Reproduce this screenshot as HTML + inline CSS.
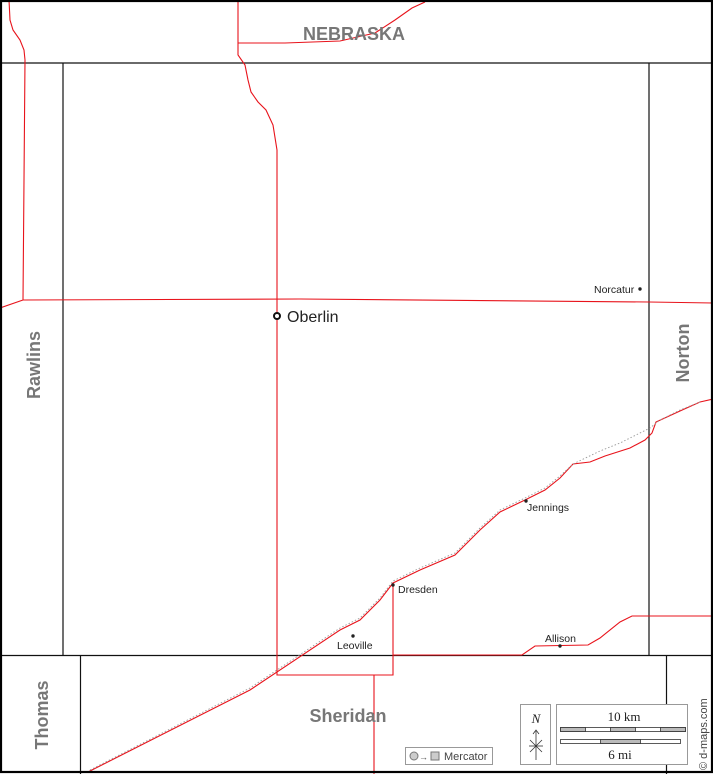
<!DOCTYPE html>
<html><head><meta charset="utf-8"><style>html,body{margin:0;padding:0;background:#fff}svg{display:block}</style></head><body>
<svg width="713" height="774" viewBox="0 0 713 774" xmlns="http://www.w3.org/2000/svg" font-family="Liberation Sans, sans-serif">
<rect x="0" y="0" width="713" height="774" fill="#fff"/>
<g stroke="#111" stroke-width="1.2" fill="none">
<line x1="0" y1="63" x2="713" y2="63"/>
<line x1="63" y1="63" x2="63" y2="655"/>
<line x1="649" y1="63" x2="649" y2="655"/>
<line x1="0" y1="655.5" x2="713" y2="655.5"/>
<line x1="80.5" y1="655" x2="80.5" y2="774"/>
<line x1="666.5" y1="655" x2="666.5" y2="774"/>
</g>
<g stroke="#e8131b" stroke-width="1.1" fill="none">
<path d="M9,0 L10,20 L13,30 L20,40 L24,50 L25,60 L23,300 L0,308"/>
<path d="M23,300 L300,299 L649,302 L713,303"/>
<path d="M238,0 L238,55 L245,65 L248,80 L251,92 L258,102 L266,110 L273,125 L277,150 L277,675 L393,675 L393,583"/>
<path d="M238,43 L285,43 L340,41 L375,33 L395,20 L412,8 L425,2"/>
<path d="M374,675 L374,774"/>
<path d="M393,655 L522,655 L535,646 L588,645 L600,638 L620,622 L632,616 L713,616"/>
<path d="M88,772 L250,690 L340,630 L360,620 L380,600 L393,583 L420,570 L455,555 L480,530 L500,512 L525,500 L545,490 L560,478 L573,464 L590,462 L605,456 L630,448 L645,440 L652,433 L656,422 L680,411 L700,402 L713,399"/>
</g>
<path d="M90,770 L250,688 L340,628 L360,618 L380,598 L393,581 L420,568 L455,553 L480,528 L500,510 L525,498 L545,488 L560,476 L573,464 L600,451 L620,443 L650,428 L660,420 L680,410 L700,402" stroke="#999" stroke-width="0.9" stroke-dasharray="1.5,2" fill="none"/>
<rect x="1" y="1" width="711" height="771" fill="none" stroke="#000" stroke-width="2.2"/>
<g fill="#777" font-weight="bold">
<text x="354" y="40" font-size="18" text-anchor="middle">NEBRASKA</text>
<text x="348" y="722" font-size="18" text-anchor="middle">Sheridan</text>
<text transform="translate(40,365) rotate(-90)" font-size="18" text-anchor="middle">Rawlins</text>
<text transform="translate(689,353) rotate(-90)" font-size="18" text-anchor="middle">Norton</text>
<text transform="translate(48,715) rotate(-90)" font-size="18" text-anchor="middle">Thomas</text>
</g>
<circle cx="277" cy="316" r="3" fill="#fff" stroke="#111" stroke-width="2"/>
<text x="287" y="322" font-size="16" fill="#222">Oberlin</text>
<g fill="#222" font-size="10.5">
<circle cx="640" cy="289" r="1.7"/><text x="594" y="293">Norcatur</text>
<circle cx="526" cy="501" r="1.7"/><text x="527" y="511">Jennings</text>
<circle cx="393" cy="585" r="1.7"/><text x="398" y="593">Dresden</text>
<circle cx="353" cy="636" r="1.7"/><text x="337" y="649">Leoville</text>
<circle cx="560" cy="646" r="1.7"/><text x="545" y="642">Allison</text>
</g>
<rect x="405.5" y="747.5" width="87" height="17" fill="#fff" stroke="#999"/>
<circle cx="414" cy="756" r="4" fill="#ccc" stroke="#777"/>
<text x="419" y="760" font-size="9" fill="#555">→</text>
<rect x="431" y="752" width="8" height="8" fill="#ccc" stroke="#777"/>
<text x="444" y="760" font-size="11" fill="#444">Mercator</text>
<rect x="520.5" y="704.5" width="30" height="60" fill="#fff" stroke="#999"/>
<text x="536" y="723" font-size="13" font-style="italic" font-family="Liberation Serif, serif" text-anchor="middle" fill="#222">N</text>
<g stroke="#333" stroke-width="0.8"><line x1="536" y1="731" x2="536" y2="760"/><line x1="529" y1="746" x2="543" y2="746"/><line x1="530" y1="740" x2="542" y2="752"/><line x1="542" y1="740" x2="530" y2="752"/><path d="M533,734 L536,730 L539,734" fill="none"/></g>
<rect x="556.5" y="704.5" width="131" height="60" fill="#fff" stroke="#999"/>
<text x="624" y="721" font-size="13" font-family="Liberation Serif, serif" text-anchor="middle" fill="#222">10 km</text>
<text x="620" y="759" font-size="13" font-family="Liberation Serif, serif" text-anchor="middle" fill="#222">6 mi</text>
<g stroke="#333" stroke-width="0.8">
<rect x="560.5" y="727.5" width="125" height="4" fill="#fff"/>
<rect x="560.5" y="727.5" width="25" height="4" fill="#bbb"/><rect x="610.5" y="727.5" width="25" height="4" fill="#bbb"/><rect x="660.5" y="727.5" width="25" height="4" fill="#bbb"/>
<rect x="560.5" y="739.5" width="120" height="4" fill="#fff"/>
<rect x="600.5" y="739.5" width="40" height="4" fill="#bbb"/>
</g>
<text transform="translate(707,770) rotate(-90)" font-size="11" fill="#444">© d-maps.com</text>
</svg>
</body></html>
